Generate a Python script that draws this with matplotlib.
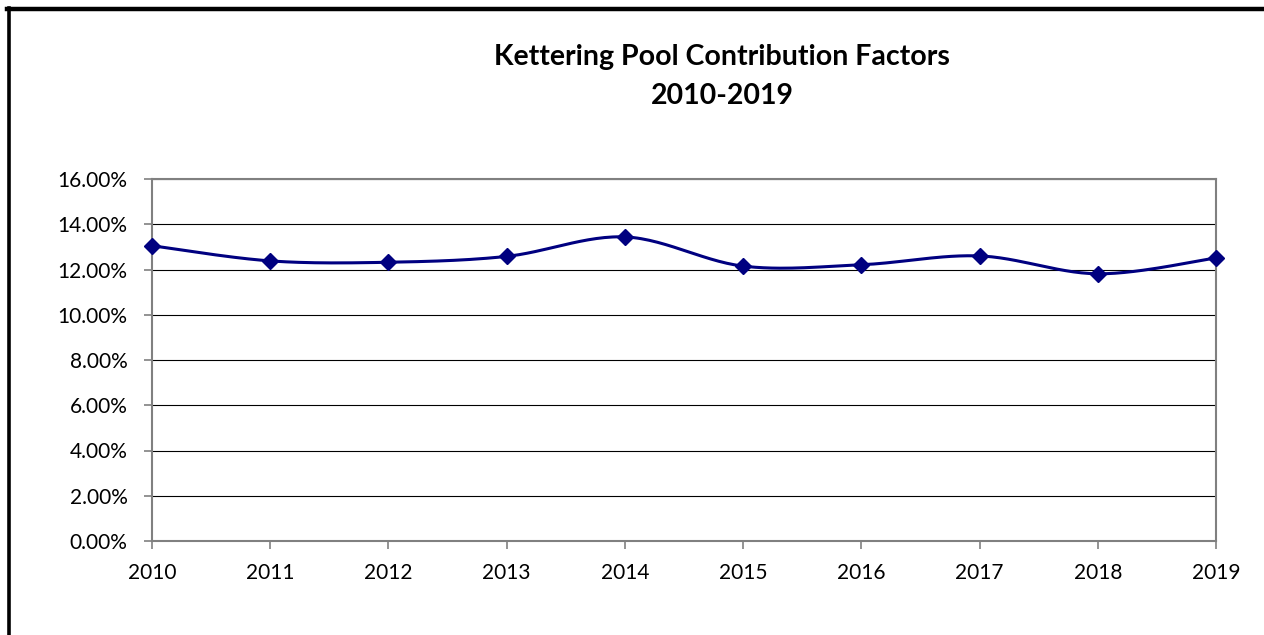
import matplotlib.pyplot as plt
from matplotlib.lines import Line2D
from matplotlib.ticker import FuncFormatter
import numpy as np

years = [2010, 2011, 2012, 2013, 2014, 2015, 2016, 2017, 2018, 2019]
factors = [13.05, 12.38, 12.32, 12.58, 13.44, 12.15, 12.21, 12.60, 11.81, 12.51]
title = 'Kettering Pool Contribution Factors\n2010-2019'


def smooth_curve(x, y, steps=30):
    # Catmull-Rom style smoothing like spreadsheet "smoothed line"
    x = np.asarray(x, dtype=float)
    y = np.asarray(y, dtype=float)
    px = np.concatenate([[x[0]], x, [x[-1]]])
    py = np.concatenate([[y[0]], y, [y[-1]]])
    xs, ys = [], []
    t = np.linspace(0, 1, steps)
    for i in range(1, len(px) - 2):
        p0, p1, p2, p3 = (np.array([px[j], py[j]]) for j in range(i - 1, i + 3))
        c1 = p1 + (p2 - p0) / 6.0
        c2 = p2 - (p3 - p1) / 6.0
        pts = ((1 - t) ** 3)[:, None] * p1 + (3 * (1 - t) ** 2 * t)[:, None] * c1 \
            + (3 * (1 - t) * t ** 2)[:, None] * c2 + (t ** 3)[:, None] * p2
        xs.extend(pts[:, 0])
        ys.extend(pts[:, 1])
    return np.array(xs), np.array(ys)


plt.rcParams['font.family'] = ['Lato', 'DejaVu Sans']

fig = plt.figure(figsize=(12.64, 6.35), dpi=100)
ax = fig.add_axes([152 / 1264, 94 / 635, 1064 / 1264, 362 / 635])

idx = np.arange(len(years))
sx, sy = smooth_curve(idx, factors)
ax.plot(sx, sy, color='#000080', lw=2.2, zorder=3)
ax.plot(idx, factors, linestyle='none', marker='D', markersize=8.5,
        color='#000080', zorder=4, clip_on=False)

ax.set_xlim(0, len(years) - 1)
ax.set_ylim(0, 16)
ax.set_yticks(np.arange(0, 17, 2))
ax.yaxis.set_major_formatter(FuncFormatter(lambda v, p: '%.2f%%' % v))
ax.set_xticks(idx)
ax.set_xticklabels([str(y) for y in years])
ax.grid(axis='y', color='black', lw=0.8)
ax.set_axisbelow(True)
for s in ax.spines.values():
    s.set_color('#808080')
    s.set_linewidth(1.5)
ax.tick_params(axis='both', colors='#808080', labelcolor='black', labelsize=15, length=6, width=1.2)
ax.tick_params(axis='x', pad=10)
ax.tick_params(axis='y', pad=11.5)

fig.text(722 / 1264, 1 - 76.5 / 635, title, ha='center', va='center',
         fontsize=20.5, fontweight='bold', linespacing=1.6)

# chart border (top and left only visible)
fig.add_artist(Line2D([7 / 1264, 1], [1 - 9.3 / 635, 1 - 9.3 / 635], color='black', lw=3.2,
                      transform=fig.transFigure))
fig.add_artist(Line2D([8.5 / 1264, 8.5 / 1264], [0, 1 - 7.5 / 635], color='black', lw=2.6,
                      transform=fig.transFigure))

fig.savefig('out.png', dpi=100)
